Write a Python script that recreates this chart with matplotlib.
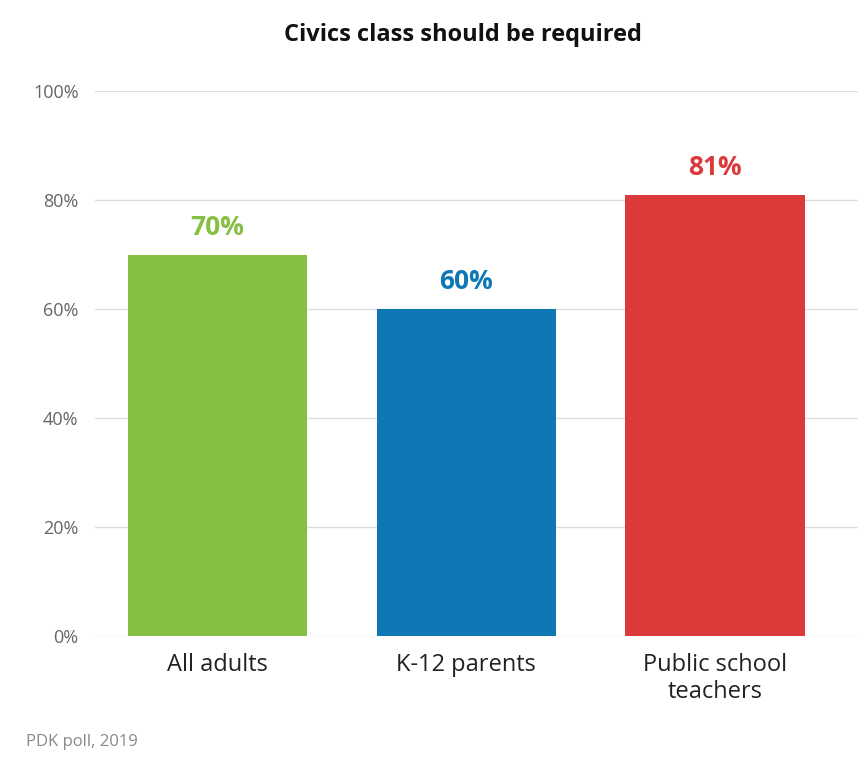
import matplotlib
matplotlib.use("Agg")
import matplotlib.pyplot as plt

categories = ["All adults", "K-12 parents", "Public school\nteachers"]
values = [70, 60, 81]
colors = ["#86c043", "#0e77b4", "#dc3a3a"]
yticks = [0, 20, 40, 60, 80, 100]

plt.rcParams['font.family'] = ['Open Sans', 'DejaVu Sans']
fig = plt.figure(figsize=(8.58, 7.71), dpi=100)
ax = fig.add_axes([0.111, 0.175, 0.889, 0.707])
x = range(len(categories))
ax.bar(x, values, width=0.72, color=colors, zorder=2)
for i, v in enumerate(values):
    ax.text(i, v + 2.5, f"{v}%", ha="center", va="bottom", color=colors[i],
            fontsize=19, fontweight="bold")
ax.set_ylim(0, 100)
ax.set_xlim(-0.49, 2.574)
ax.set_yticks(yticks)
ax.set_yticklabels([f"{t}%" for t in yticks], color="#666666", fontsize=13)
ax.set_xticks(list(x))
ax.set_xticklabels(categories, fontsize=17, color="#222222", linespacing=1.2)
ax.tick_params(axis="both", length=0)
ax.tick_params(axis="y", pad=12)
ax.tick_params(axis="x", pad=12)
ax.grid(axis="y", color="#dddddd", linewidth=1, zorder=0)
for s in ax.spines.values():
    s.set_visible(False)
fig.text(0.54, 0.955, "Civics class should be required", ha="center", va="center",
         fontsize=17, fontweight="bold", color="#111111")
fig.text(0.03, 0.037, "PDK poll, 2019", ha="left", va="center", fontsize=12, color="#888888")
fig.savefig("out.png", dpi=100)
